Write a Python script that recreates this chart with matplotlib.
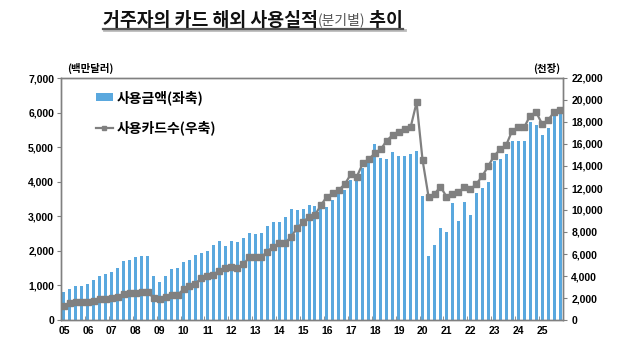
import numpy as np
import matplotlib
matplotlib.use("Agg")
import matplotlib.pyplot as plt
from matplotlib.lines import Line2D
from matplotlib.patches import Patch

plt.rcParams['font.family'] = ['Noto Sans CJK KR', 'DejaVu Sans']

# quarterly, 2005Q1 .. 2025Q4
years = ["05", "06", "07", "08", "09", "10", "11", "12", "13", "14", "15",
         "16", "17", "18", "19", "20", "21", "22", "23", "24", "25"]

# 사용금액 (백만달러, left axis)
amount = [805, 910, 988, 990, 1037, 1153, 1279, 1318,
          1385, 1502, 1695, 1734, 1831, 1860, 1850, 1260,
          1105, 1279, 1463, 1495, 1690, 1744, 1885, 1950,
          2000, 2160, 2288, 2145, 2277, 2267, 2363, 2515,
          2475, 2515, 2713, 2829, 2829, 2980, 3198, 3190,
          3198, 3314, 3295, 3391, 3275, 3469, 3731, 3750,
          4041, 4186, 4409, 4583, 5087, 4680, 4651, 4865,
          4740, 4740, 4810, 4880, 3600, 1860, 2160, 2674,
          2549, 3372, 2858, 3411, 3043, 3672, 3828, 4002,
          4603, 4661, 4797, 5184, 5184, 5184, 5717, 5649,
          5359, 5543, 6055, 6124]

# 사용카드수 (천장, right axis)
cards = [1273, 1515, 1636, 1606, 1636, 1727, 1939, 1939,
         2000, 2121, 2364, 2485, 2455, 2515, 2515, 2030,
         1909, 2121, 2303, 2273, 2788, 3061, 3303, 3818,
         3970, 4121, 4500, 4750, 4850, 4750, 5050, 5700,
         5700, 5700, 6212, 6666, 6969, 6990, 7575, 8333,
         8878, 9393, 9545, 10454, 11212, 11515, 11818, 12363,
         13242, 13030, 14242, 14606, 15151, 15515, 16303, 16818,
         17120, 17380, 17515, 19780, 14545, 11212, 11454, 12121,
         11212, 11454, 11606, 12060, 11878, 12363, 13090, 13999,
         14939, 15515, 15909, 17211, 17515, 17515, 18575, 18908,
         17817, 18181, 18878, 19060]

bar_color = "#5AA8DE"
line_color = "#808080"
axis_color = "#808080"

x = np.arange(len(amount))

fig = plt.figure(figsize=(6.4, 3.64), dpi=100)
ax = fig.add_axes([61 / 640, 1 - 320 / 364, (563 - 61) / 640, (320 - 78) / 364])
ax2 = ax.twinx()

ax.bar(x, amount, width=0.5, color=bar_color, zorder=2)
ax2.plot(x, cards, color=line_color, lw=1.6, marker="s", ms=4.3,
         mfc=line_color, mec=line_color, zorder=3)

ax.set_xlim(-0.5, len(amount) - 0.5)
ax.set_ylim(0, 7000)
ax2.set_ylim(0, 22000)
ax.set_yticks(np.arange(0, 7001, 1000))
ax2.set_yticks(np.arange(0, 22001, 2000))
ax.set_yticklabels([f"{v:,}" for v in range(0, 7001, 1000)])
ax2.set_yticklabels([f"{v:,}" for v in range(0, 22001, 2000)])

ax.set_xticks(np.arange(0, len(amount), 4))
ax.set_xticklabels(years)
ax.set_xticks(np.arange(-0.5, len(amount), 4), minor=True)
ax.tick_params(axis="x", which="major", length=0, pad=4)
ax.tick_params(axis="x", which="minor", length=3, direction="in", color=axis_color)
ax.tick_params(axis="y", length=3, color=axis_color, pad=2)
ax2.tick_params(axis="y", length=3, color=axis_color, pad=3)

for a in (ax, ax2):
    for s in a.spines.values():
        s.set_color(axis_color)
        s.set_linewidth(1.0)
    for lab in a.get_yticklabels() + a.get_xticklabels():
        lab.set_fontsize(7.5)
        lab.set_fontweight("bold")
        lab.set_family(["Liberation Sans", "DejaVu Sans"])

# unit labels
fig.text(67 / 640, 1 - 68 / 364, "(백만달러)", fontsize=7.5, fontweight="bold",
         va="center", ha="left")
fig.text(560 / 640, 1 - 68 / 364, "(천장)", fontsize=7.5, fontweight="bold",
         va="center", ha="right")

# legend
handles = [Patch(facecolor=bar_color, edgecolor="none"),
           Line2D([0], [0], color=line_color, lw=1.6, marker="s", ms=3)]
leg = ax2.legend(handles, ["사용금액(좌축)", "사용카드수(우축)"],
                 loc="upper left", bbox_to_anchor=(0.045, 1.0), frameon=False,
                 prop={"size": 10, "weight": "bold"}, labelspacing=1.1,
                 handlelength=1.2, handletextpad=0.3, handleheight=0.5)

# title assembled from pieces
fig.canvas.draw()
renderer = fig.canvas.get_renderer()
ty = 1 - 20 / 364
pieces = [("거주자의 카드 해외 사용실적", 13.2, "bold", "#111111"),
          ("(분기별)", 10, "normal", "#555555"),
          (" 추이", 13.2, "bold", "#111111")]
cur = 103 / 640
for txt, size, weight, col in pieces:
    t = fig.text(cur, ty, txt, fontsize=size, fontweight=weight, color=col,
                 va="center", ha="left")
    bb = t.get_window_extent(renderer)
    cur += bb.width / fig.bbox.width
end = cur
uy = 1 - 29 / 364
fig.add_artist(Line2D([103 / 640 + 0.002, end + 0.002], [uy - 0.004, uy - 0.004],
                      color="#BBBBBB", lw=2.0, transform=fig.transFigure))
fig.add_artist(Line2D([103 / 640, end], [uy, uy], color="#555555", lw=1.6,
                      transform=fig.transFigure))

fig.savefig("out.png", dpi=100)
